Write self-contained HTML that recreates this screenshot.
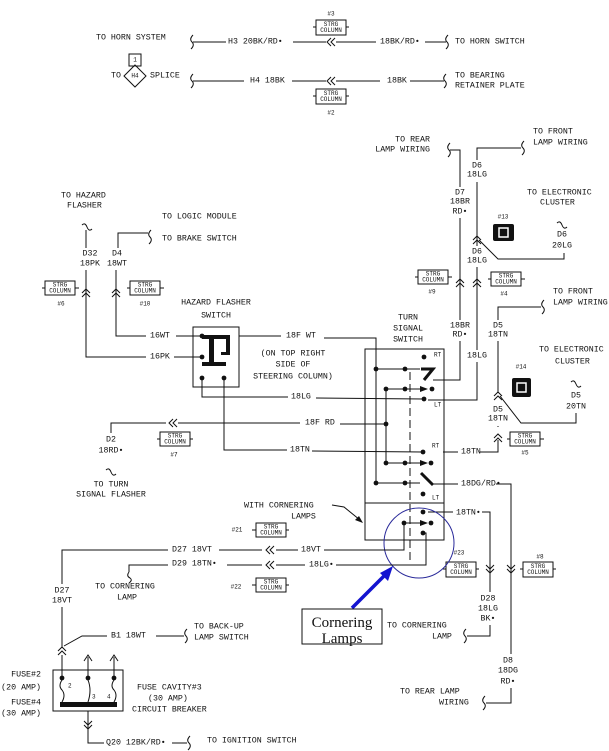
<!DOCTYPE html>
<html><head><meta charset="utf-8"><style>
html,body{margin:0;padding:0;background:#fff;}
svg{display:block;}
text{font-family:"Liberation Mono",monospace;font-size:8.3px;fill:#111;dominant-baseline:central;}
.c{text-anchor:middle;}
.e{text-anchor:end;}
.s{font-size:6px;}
.l{stroke:#111;stroke-width:1;fill:none;}
</style></head><body>
<svg width="609" height="751" viewBox="0 0 609 751" xmlns="http://www.w3.org/2000/svg">
<defs>
<path id="chl" d="M3,-4 L-1,0 L3,4 M7,-4 L3,0 L7,4" stroke="#111" fill="none"/>
<path id="chu" d="M-4,3 L0,-1 L4,3 M-4,7 L0,3 L4,7" stroke="#111" fill="none"/>
<path id="chd" d="M-4,-7 L0,-3 L4,-7 M-4,-3 L0,1 L4,-3" stroke="#111" fill="none"/>
<path id="sq" d="M1,-7 Q-3,-3 0,0 Q3,3 -1,7" stroke="#111" fill="none"/>
<path id="sqh" d="M-5,-2 Q-2,-5 0,0 Q2,5 5,2" stroke="#111" fill="none"/>
<path id="arr" d="M-4,-3 L4,0 L-4,3 Z" fill="#111"/>
</defs>

<!-- Top horn section -->
<text x="96" y="38">TO HORN SYSTEM</text>
<use href="#sq" x="192" y="42"/>
<path class="l" d="M193,42 L226,42 M293,42 L326,42 M336,42 L376,42 M425,42 L446,42"/>
<use href="#chl" x="328" y="42"/>
<text x="228" y="42">H3 20BK/RD•</text>
<text x="380" y="42">18BK/RD•</text>
<use href="#sq" x="447" y="42"/>
<text x="455" y="42">TO HORN SWITCH</text>
<text x="331" y="14" class="c s">#3</text>
<g><path class="l" d="M313,27 L316,27 M346,27 L349,27"/><rect x="316" y="20" width="30" height="15" class="l"/><text x="331" y="24.5" class="c s">STRG</text><text x="331" y="30.5" class="c s">COLUMN</text></g>

<text x="111" y="76">TO</text>
<rect x="129" y="54" width="12" height="12" class="l"/><text x="135" y="60" class="c s">1</text>
<path class="l" d="M135,65 L146,76 L135,87 L124,76 Z" fill="#fff"/>
<text x="135" y="76" class="c s">H4</text>
<text x="150" y="76">SPLICE</text>
<use href="#sq" x="192" y="81"/>
<path class="l" d="M193,81 L244,81 M292,81 L326,81 M336,81 L380,81 M410,81 L444,81"/>
<use href="#chl" x="328" y="81"/>
<text x="250" y="81">H4 18BK</text>
<text x="387" y="81">18BK</text>
<use href="#sq" x="445" y="81"/>
<text x="455" y="76">TO BEARING</text>
<text x="455" y="86">RETAINER PLATE</text>
<g><path class="l" d="M313,96 L316,96 M346,96 L349,96"/><rect x="316" y="89" width="30" height="15" class="l"/><text x="331" y="93.5" class="c s">STRG</text><text x="331" y="99.5" class="c s">COLUMN</text></g>
<text x="331" y="113" class="c s">#2</text>

<!-- Top right -->
<text x="430" y="140" class="e">TO REAR</text>
<text x="430" y="150" class="e">LAMP WIRING</text>
<use href="#sq" x="449" y="150"/>
<path class="l" d="M450,150 L460,150 L460,187 M460,218 L460,320 M460,341 L460,380 L433,380"/>
<text x="460" y="193" class="c">D7</text><text x="460" y="202" class="c">18BR</text><text x="460" y="212" class="c">RD•</text>
<use href="#chu" x="460" y="280"/>
<text x="460" y="326" class="c">18BR</text><text x="460" y="335" class="c">RD•</text>

<path class="l" d="M521,148 L477,148 L477,160 M477,182 L477,246 M477,267 L477,350 M477,362 L477,400 L428,400"/>
<use href="#sq" x="523" y="148"/>
<text x="533" y="132">TO FRONT</text><text x="533" y="143">LAMP WIRING</text>
<text x="477" y="166" class="c">D6</text><text x="477" y="175" class="c">18LG</text>
<use href="#chu" x="477" y="237"/>
<text x="477" y="252" class="c">D6</text><text x="477" y="261" class="c">18LG</text>
<use href="#chu" x="477" y="280"/>
<text x="477" y="356" class="c">18LG</text>
<path class="l" d="M479,240 L498,259 L564,259 L564,253"/>
<text x="562" y="235" class="c">D6</text><text x="562" y="246" class="c">20LG</text>
<use href="#sqh" x="562" y="225"/>
<text x="527" y="193">TO ELECTRONIC</text><text x="540" y="203">CLUSTER</text>
<text x="503" y="217" class="c s">#13</text>
<rect x="493" y="224" width="21" height="17" rx="2" fill="#111"/><rect x="499" y="228" width="9" height="9" fill="none" stroke="#fff" stroke-width="1.5"/>
<g><path class="l" d="M415,277 L418,277 M448,277 L452,277"/><rect x="418" y="270" width="30" height="14" class="l"/><text x="433" y="274" class="c s">STRG</text><text x="433" y="280" class="c s">COLUMN</text></g>
<text x="432" y="292" class="c s">#9</text>
<g><path class="l" d="M488,279 L491,279 M521,279 L525,279"/><rect x="491" y="272" width="30" height="14" class="l"/><text x="506" y="276" class="c s">STRG</text><text x="506" y="282" class="c s">COLUMN</text></g>
<text x="504" y="294" class="c s">#4</text>

<!-- left top -->
<text x="61" y="196">TO HAZARD</text><text x="67" y="206">FLASHER</text>
<use href="#sqh" x="87" y="227"/>
<path class="l" d="M86,230 L86,248 M86,270 L86,357 L146,357 M174,357 L202,357"/>
<text x="90" y="254" class="c">D32</text><text x="90" y="264" class="c">18PK</text>
<use href="#chu" x="86" y="290"/>
<text x="150" y="357">16PK</text>
<text x="162" y="217">TO LOGIC MODULE</text>
<text x="162" y="239">TO BRAKE SWITCH</text>
<use href="#sq" x="150" y="237"/>
<path class="l" d="M148,233 L118,233 L118,248 M116,270 L116,336 L146,336 M176,336 L202,336"/>
<text x="117" y="254" class="c">D4</text><text x="117" y="264" class="c">18WT</text>
<use href="#chu" x="116" y="290"/>
<text x="150" y="336">16WT</text>
<g><path class="l" d="M42,288 L45,288 M75,288 L79,288"/><rect x="45" y="281" width="30" height="14" class="l"/><text x="60" y="285" class="c s">STRG</text><text x="60" y="291" class="c s">COLUMN</text></g>
<text x="61" y="304" class="c s">#6</text>
<g><path class="l" d="M127,288 L130,288 M160,288 L164,288"/><rect x="130" y="281" width="30" height="14" class="l"/><text x="145" y="285" class="c s">STRG</text><text x="145" y="291" class="c s">COLUMN</text></g>
<text x="145" y="304" class="c s">#10</text>

<text x="216" y="303" class="c">HAZARD FLASHER</text>
<text x="216" y="316" class="c">SWITCH</text>
<rect x="193" y="327" width="46" height="60" class="l"/>
<g fill="#111">
<circle cx="202" cy="336" r="2.4"/><circle cx="202" cy="357" r="2.4"/><circle cx="202" cy="378" r="2.4"/><circle cx="224" cy="378" r="2.4"/>
<rect x="202" y="335" width="17" height="4"/><rect x="209" y="335" width="5" height="30"/><rect x="202" y="362" width="24" height="4"/>
<rect x="219" y="335" width="11" height="4"/><rect x="226" y="335" width="4" height="20"/><rect x="221" y="352" width="9" height="3"/>
</g>
<path class="l" d="M239,336 L281,336 M324,338 L376,338 L376,483"/>
<text x="286" y="336">18F WT</text>
<text x="293" y="354" class="c">(ON TOP RIGHT</text>
<text x="293" y="365" class="c">SIDE OF</text>
<text x="293" y="377" class="c">STEERING COLUMN)</text>
<path class="l" d="M202,378 L202,397 L288,397 M316,398 L424,399"/>
<text x="291" y="397">18LG</text>
<path class="l" d="M224,378 L224,450 L287,450 M312,451 L423,452"/>
<text x="290" y="450">18TN</text>

<path class="l" d="M111,433 L111,423 L166,423 M178,423 L300,423 M340,424 L386,424"/>
<use href="#chl" x="170" y="423"/>
<text x="305" y="423">18F RD</text>
<text x="111" y="440" class="c">D2</text><text x="111" y="451" class="c">18RD•</text>
<use href="#sqh" x="111" y="472"/>
<text x="111" y="485" class="c">TO TURN</text><text x="111" y="495" class="c">SIGNAL FLASHER</text>
<g><path class="l" d="M157,439 L160,439 M190,439 L193,439"/><rect x="160" y="432" width="30" height="14" class="l"/><text x="175" y="436" class="c s">STRG</text><text x="175" y="442" class="c s">COLUMN</text></g>
<text x="174" y="455" class="c s">#7</text>

<!-- turn signal switch -->
<text x="408" y="318" class="c">TURN</text><text x="408" y="329" class="c">SIGNAL</text><text x="408" y="340" class="c">SWITCH</text>
<rect x="365" y="349" width="79" height="191" class="l"/>
<path class="l" d="M365,503 L444,503"/>
<path class="l" d="M410,372 L410,560" stroke-dasharray="8,4"/>
<g fill="#111">
<circle cx="424" cy="357" r="2.4"/>
<circle cx="376" cy="369" r="2.4"/><circle cx="405" cy="369" r="2.4"/>
<circle cx="386" cy="389" r="2.4"/><circle cx="405" cy="389" r="2.4"/><circle cx="432" cy="389" r="2.4"/>
<circle cx="424" cy="399" r="2.4"/>
<circle cx="386" cy="424" r="2.4"/>
<circle cx="423" cy="452" r="2.4"/>
<circle cx="386" cy="463" r="2.4"/><circle cx="405" cy="463" r="2.4"/><circle cx="431" cy="463" r="2.4"/>
<circle cx="376" cy="483" r="2.4"/><circle cx="405" cy="483" r="2.4"/>
<circle cx="423" cy="494" r="2.4"/>
<circle cx="423" cy="512" r="2.4"/>
<circle cx="404" cy="523" r="2.4"/><circle cx="431" cy="523" r="2.4"/>
<circle cx="423" cy="533" r="2.4"/>
</g>
<path class="l" d="M376,369 L420,369 M386,389 L420,389 M386,389 L386,463 M386,463 L420,463 M376,483 L420,483 M404,523 L420,523"/>
<path d="M421,369 L433,369 L424,380" stroke="#111" stroke-width="3" fill="none"/>
<path d="M421,473 L433,485" stroke="#111" stroke-width="3" fill="none"/>
<use href="#arr" x="424" y="389"/><use href="#arr" x="424" y="463"/><use href="#arr" x="424" y="523"/>
<text x="434" y="355" class="s">RT</text><text x="434" y="405" class="s">LT</text>
<text x="432" y="446" class="s">RT</text><text x="432" y="498" class="s">LT</text>

<!-- right of switch -->
<path class="l" d="M443,452 L458,452 M480,452 L498,452 L498,440 M498,427 L498,426 M498,393 L498,341 M498,320 L498,307 L541,307"/>
<text x="461" y="452">18TN</text>
<use href="#chu" x="498" y="435"/>
<text x="498" y="410" class="c">D5</text><text x="498" y="419" class="c">18TN</text>
<use href="#chu" x="498" y="393"/>
<text x="498" y="326" class="c">D5</text><text x="498" y="335" class="c">18TN</text>
<use href="#sq" x="543" y="307"/>
<text x="553" y="292">TO FRONT</text><text x="553" y="303">LAMP WIRING</text>
<path class="l" d="M500,396 L521,423 L576,423 L576,413"/>
<text x="576" y="396" class="c">D5</text><text x="576" y="407" class="c">20TN</text>
<use href="#sqh" x="576" y="384"/>
<text x="539" y="350">TO ELECTRONIC</text><text x="555" y="362">CLUSTER</text>
<text x="521" y="367" class="c s">#14</text>
<rect x="512" y="378" width="19" height="19" rx="2" fill="#111"/><rect x="517" y="383" width="9" height="9" fill="none" stroke="#fff" stroke-width="1.5"/>
<g><path class="l" d="M507,439 L510,439 M540,439 L544,439"/><rect x="510" y="432" width="30" height="14" class="l"/><text x="525" y="436" class="c s">STRG</text><text x="525" y="442" class="c s">COLUMN</text></g>
<text x="525" y="453" class="c s">#5</text>

<path class="l" d="M433,484 L458,484 M496,484 L511,484 L511,654 M511,688 L511,703 L486,703"/>
<text x="461" y="484">18DG/RD•</text>
<use href="#chd" x="511" y="572"/>
<text x="508" y="661" class="c">D8</text><text x="508" y="671" class="c">18DG</text><text x="508" y="682" class="c">RD•</text>
<use href="#sq" x="484" y="703"/>
<text x="400" y="692">TO REAR LAMP</text><text x="439" y="703">WIRING</text>
<g><path class="l" d="M520,569 L523,569 M553,569 L556,569"/><rect x="523" y="562" width="30" height="15" class="l"/><text x="538" y="566.5" class="c s">STRG</text><text x="538" y="572.5" class="c s">COLUMN</text></g>
<text x="540" y="557" class="c s">#8</text>

<path class="l" d="M428,512 L453,512 M482,512 L490,512 L490,592 M490,625 L490,636 L467,636"/>
<text x="456" y="513">18TN•</text>
<use href="#chd" x="490" y="572"/>
<text x="488" y="599" class="c">D28</text><text x="488" y="609" class="c">18LG</text><text x="488" y="619" class="c">BK•</text>
<use href="#sq" x="465" y="636"/>
<text x="387" y="626">TO CORNERING</text><text x="432" y="637">LAMP</text>
<g><path class="l" d="M443,569 L446,569 M476,569 L479,569"/><rect x="446" y="562" width="30" height="15" class="l"/><text x="461" y="566.5" class="c s">STRG</text><text x="461" y="572.5" class="c s">COLUMN</text></g>
<text x="459" y="553" class="c s">#23</text>

<!-- cornering -->
<text x="244" y="506">WITH CORNERING</text><text x="291" y="517">LAMPS</text>
<path class="l" d="M332,505 L344,507 L360,520"/>
<path d="M363,523 L355,520 L359,516 Z" fill="#111"/>
<ellipse cx="419" cy="543" rx="35" ry="35" fill="none" stroke="#2a2a9a" stroke-width="1"/>
<path d="M352,608 L385,575" stroke="#1414d0" stroke-width="3.5"/>
<path d="M393,566 L380,573 L388,581 Z" fill="#1414d0"/>
<rect x="302" y="609" width="80" height="35" fill="#fff" stroke="#111"/>
<text x="342" y="623" class="c" style="font-family:'Liberation Serif',serif;font-size:15px">Cornering</text>
<text x="342" y="639" class="c" style="font-family:'Liberation Serif',serif;font-size:15px">Lamps</text>

<path class="l" d="M404,523 L404,550 L324,550 M298,550 L276,550 M262,550 L219,550 M168,550 L62,550 L62,584 M62,607 L62,648"/>
<text x="172" y="550">D27 18VT</text>
<use href="#chl" x="267" y="550"/>
<text x="301" y="550">18VT</text>
<text x="62" y="591" class="c">D27</text><text x="62" y="601" class="c">18VT</text>
<use href="#chu" x="62" y="648"/>
<path class="l" d="M423,533 L426,533 L426,565 L336,565 M305,565 L276,565 M262,565 L227,565 M168,565 L129,565 L129,572"/>
<path class="l" d="M129,572 Q126,576 130,578 Q133,580 129,583"/>
<text x="172" y="564">D29 18TN•</text>
<use href="#chl" x="267" y="565"/>
<text x="309" y="565">18LG•</text>
<text x="237" y="530" class="c s">#21</text>
<g><path class="l" d="M252,530 L256,530 M286,530 L289,530"/><rect x="256" y="523" width="30" height="14" class="l"/><text x="271" y="527" class="c s">STRG</text><text x="271" y="533" class="c s">COLUMN</text></g>
<text x="236" y="587" class="c s">#22</text>
<g><path class="l" d="M252,585 L256,585 M286,585 L289,585"/><rect x="256" y="578" width="30" height="14" class="l"/><text x="271" y="582" class="c s">STRG</text><text x="271" y="588" class="c s">COLUMN</text></g>
<text x="125" y="587" class="c">TO CORNERING</text><text x="127" y="598" class="c">LAMP</text>

<!-- B1 and fuses -->
<path class="l" d="M64,646 L82,636 L107,636 M156,636 L184,636"/>
<text x="111" y="636">B1 18WT</text>
<use href="#sq" x="186" y="636"/>
<text x="194" y="627">TO BACK-UP</text><text x="194" y="638">LAMP SWITCH</text>
<rect x="53" y="670" width="70" height="41" class="l"/>
<path class="l" d="M62,655 L62,678 M88,657 L88,678 M114,657 L114,678 M84,661 L88,655 L92,661 M110,661 L114,655 L118,661"/>
<g fill="#111"><circle cx="62" cy="678" r="2.4"/><circle cx="88" cy="678" r="2.4"/><circle cx="114" cy="678" r="2.4"/></g>
<path class="l" d="M62,680 Q58,686 62,690 Q66,695 62,702 M88,680 Q92,690 88,702 M114,680 Q110,686 114,690 Q118,695 114,702"/>
<rect x="60" y="702" width="57" height="5" fill="#111"/>
<text x="68" y="686" class="s">2</text><text x="92" y="697" class="s">3</text><text x="107" y="697" class="s">4</text>
<text x="41" y="675" class="e">FUSE#2</text><text x="41" y="688" class="e">(20 AMP)</text>
<text x="41" y="703" class="e">FUSE#4</text><text x="41" y="714" class="e">(30 AMP)</text>
<text x="137" y="688">FUSE CAVITY#3</text><text x="148" y="699">(30 AMP)</text><text x="132" y="710">CIRCUIT BREAKER</text>
<path class="l" d="M88,711 L88,743 L104,743 M172,743 L187,743"/>
<use href="#chd" x="88" y="728"/>
<text x="106" y="743">Q20 12BK/RD•</text>
<use href="#sq" x="189" y="743"/>
<text x="207" y="741">TO IGNITION SWITCH</text>
</svg>
</body></html>
